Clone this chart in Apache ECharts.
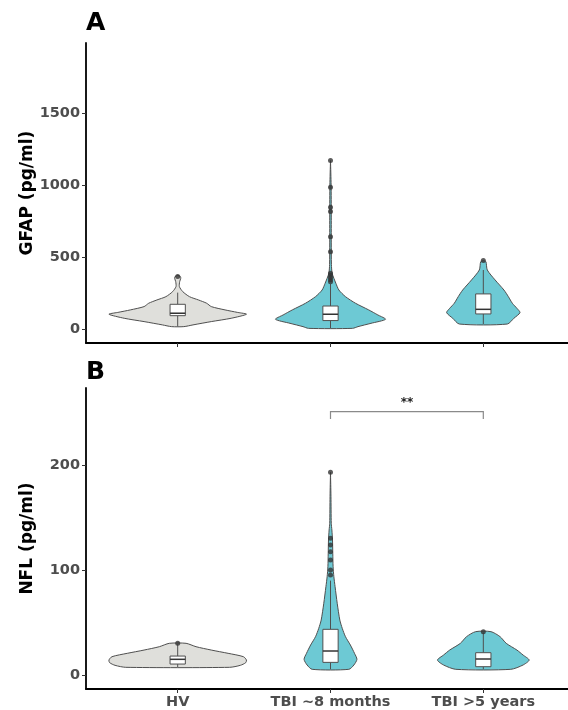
<!DOCTYPE html>
<html><head><meta charset="utf-8">
<script src="https://cdn.jsdelivr.net/npm/echarts@6/dist/echarts.min.js"></script>
<style>html,body{margin:0;padding:0;background:#fff}#c{width:568px;height:710px}</style>
</head><body><div id="c"></div>
<script>
// ---- data ----
const categories = ['HV', 'TBI ~8 months', 'TBI >5 years'];
const gfapTicks = [0, 500, 1000, 1500];
const nflTicks = [0, 100, 200];
const catTicks = [1, 2, 3];

// violin outlines: value levels (pg/ml) and half-widths (category units)
const gfapHV_y = [19, 31, 54, 77, 105, 118, 135, 158, 181, 204, 227, 262, 297, 331, 354, 366, 375];
const gfapHV_w = [0.04, 0.10, 0.22, 0.35, 0.45, 0.39, 0.31, 0.22, 0.19, 0.136, 0.077, 0.033, 0.011, 0.013, 0.02, 0.018, 0];
const gfapT8_y = [7, 19, 42, 70, 100, 135, 181, 227, 273, 320, 389, 450, 600, 800, 1000, 1171];
const gfapT8_w = [0.144, 0.18, 0.265, 0.36, 0.31, 0.25, 0.164, 0.098, 0.055, 0.035, 0.011, 0.006, 0.005, 0.005, 0.004, 0];
const gfapT5_y = [37, 77, 116, 146, 181, 227, 273, 343, 412, 470, 477];
const gfapT5_w = [0.157, 0.2, 0.24, 0.22, 0.19, 0.164, 0.135, 0.077, 0.026, 0.017, 0];

const nflHV_y = [7.6, 9.5, 12, 14.5, 17.7, 20.9, 24.0, 27.2, 30.4];
const nflHV_w = [0.34, 0.41, 0.445, 0.45, 0.43, 0.33, 0.22, 0.12, 0.055];
const nflT8_y = [5.7, 9.8, 15.2, 20.9, 28.8, 36.7, 44.6, 52.5, 68.4, 84.2, 93.7, 103.2, 115.9, 128.6, 138.1, 144.4, 170, 192.9];
const nflT8_w = [0.12, 0.153, 0.173, 0.157, 0.13, 0.098, 0.077, 0.061, 0.044, 0.03, 0.022, 0.017, 0.015, 0.013, 0.009, 0.005, 0.003, 0];
const nflT5_y = [5.7, 9.8, 14.5, 19.3, 24.0, 30.4, 36.7, 41.5];
const nflT5_w = [0.18, 0.26, 0.3, 0.26, 0.22, 0.15, 0.11, 0.05];

// box stats: [lower whisker, Q1, median, Q3, upper whisker]
const gfapBox = [[19, 95, 112, 174, 255], [7, 61, 105, 162, 315], [37, 107, 139, 246, 412]];
const nflBox = [[7.6, 10.7, 15.2, 18.3, 29.5], [5.7, 12.3, 23.1, 43.7, 90], [5.7, 8.2, 15.5, 21.5, 40.5]];
// outliers: [category (1-based), value]
const gfapOutliers = [[1, 366], [2, 1171], [2, 986], [2, 847], [2, 817], [2, 643], [2, 539], [2, 389], [2, 375], [2, 360], [2, 345], [2, 331], [3, 477]];
const nflOutliers = [[1, 30.4], [2, 192.9], [2, 130.2], [2, 123.8], [2, 117.5], [2, 109.6], [2, 100.1], [2, 95.3], [3, 41.5]];

// significance bracket (panel B)
const bracketFrom = 2, bracketTo = 3, bracketY = 250.5, bracketDrop = 243.5, bracketLabel = '**', bracketLabelY = 259;

// ---- styling ----
const FONT = '"DejaVu Sans", Arial, sans-serif';
const fills = ['#dfdfdb', '#6dc9d4', '#6dc9d4'];
const strokeC = '#4f4f4f';

function violinSeries(grid, ys, ws) {
  return {
    type: 'custom', xAxisIndex: grid, yAxisIndex: grid, z: 2,
    data: [[1], [2], [3]],
    renderItem: function (params, api) {
      const i = params.dataIndex, c = i + 1;
      const Y = ys[i], W = ws[i];
      const pts = [];
      for (let k = 0; k < Y.length; k++) pts.push(api.coord([c + W[k], Y[k]]));
      for (let k = Y.length - 1; k >= 0; k--) pts.push(api.coord([c - W[k], Y[k]]));
      return { type: 'polygon', shape: { points: pts, smooth: 0.25 },
        style: { fill: fills[i], stroke: strokeC, lineWidth: 1 } };
    }
  };
}
function boxSeries(grid, stats) {
  return {
    type: 'custom', xAxisIndex: grid, yAxisIndex: grid, z: 3,
    data: [[1], [2], [3]],
    renderItem: function (params, api) {
      const i = params.dataIndex, c = i + 1, s = stats[i], hw = 0.05;
      const lo = api.coord([c, s[0]]), hi = api.coord([c, s[4]]);
      const q1l = api.coord([c - hw, s[1]]), q3r = api.coord([c + hw, s[3]]);
      const ml = api.coord([c - hw, s[2]]), mr = api.coord([c + hw, s[2]]);
      const q1c = api.coord([c, s[1]]), q3c = api.coord([c, s[3]]);
      const ls = { stroke: strokeC, lineWidth: 1 };
      return { type: 'group', children: [
        { type: 'line', shape: { x1: lo[0], y1: lo[1], x2: q1c[0], y2: q1c[1] }, style: ls },
        { type: 'line', shape: { x1: q3c[0], y1: q3c[1], x2: hi[0], y2: hi[1] }, style: ls },
        { type: 'rect', shape: { x: q1l[0], y: q3r[1], width: q3r[0] - q1l[0], height: q1l[1] - q3r[1] },
          style: { fill: '#fff', stroke: strokeC, lineWidth: 1 } },
        { type: 'line', shape: { x1: ml[0], y1: ml[1], x2: mr[0], y2: mr[1] }, style: { stroke: '#333', lineWidth: 1.5 } }
      ] };
    }
  };
}
function outlierSeries(grid, pts) {
  return { type: 'scatter', xAxisIndex: grid, yAxisIndex: grid, z: 4, data: pts,
    symbolSize: 5, itemStyle: { color: '#333' }, silent: true };
}
const tickLabelStyle = { color: '#4d4d4d', fontWeight: 'bold', fontSize: 14.5, fontFamily: FONT };
function xAxis(grid, labels) {
  return { gridIndex: grid, type: 'value', min: 0.4, max: 3.6,
    axisLine: { show: true, onZero: false, lineStyle: { color: '#000', width: 1.8 } },
    axisTick: { show: true, customValues: catTicks, length: 4, lineStyle: { color: '#333' } },
    axisLabel: labels ? Object.assign({ customValues: catTicks, margin: 6,
      formatter: v => categories[Math.round(v) - 1] }, tickLabelStyle) : { show: false },
    splitLine: { show: false } };
}
function yAxis(grid, min, max, ticks, name) {
  return { gridIndex: grid, type: 'value', min: min, max: max,
    axisLine: { show: true, lineStyle: { color: '#000', width: 1.8 } },
    axisTick: { show: true, customValues: ticks, length: 4, lineStyle: { color: '#333' } },
    axisLabel: Object.assign({ customValues: ticks, margin: 6, formatter: v => String(v) }, tickLabelStyle),
    splitLine: { show: false },
    name: name, nameLocation: 'middle', nameGap: 50, nameMoveOverlap: false,
    nameTextStyle: { color: '#000', fontWeight: 'bold', fontSize: 17, fontFamily: FONT } };
}

const chart = echarts.init(document.getElementById('c'), null, { renderer: 'canvas' });
chart.setOption({
  animation: false,
  backgroundColor: '#fff',
  grid: [
    { left: 86, top: 43, width: 489, height: 300, outerBoundsMode: 'none' },
    { left: 86, top: 388, width: 489, height: 301, outerBoundsMode: 'none' }
  ],
  xAxis: [xAxis(0, false), xAxis(1, true)],
  yAxis: [yAxis(0, -94.6, 1987, gfapTicks, 'GFAP (pg/ml)'), yAxis(1, -13, 273, nflTicks, 'NFL (pg/ml)')],
  graphic: [
    { type: 'text', left: 86, top: 11, style: { text: 'A', font: 'bold 25px ' + FONT, fill: '#000' } },
    { type: 'text', left: 86, top: 360, style: { text: 'B', font: 'bold 25px ' + FONT, fill: '#000' } }
  ],
  series: [
    violinSeries(0, [gfapHV_y, gfapT8_y, gfapT5_y], [gfapHV_w, gfapT8_w, gfapT5_w]),
    boxSeries(0, gfapBox),
    outlierSeries(0, gfapOutliers),
    violinSeries(1, [nflHV_y, nflT8_y, nflT5_y], [nflHV_w, nflT8_w, nflT5_w]),
    boxSeries(1, nflBox),
    outlierSeries(1, nflOutliers),
    { type: 'custom', xAxisIndex: 1, yAxisIndex: 1, z: 5, data: [[bracketFrom, bracketTo]],
      renderItem: function (params, api) {
        const a = api.coord([bracketFrom, bracketDrop]), b = api.coord([bracketFrom, bracketY]);
        const c = api.coord([bracketTo, bracketY]), d = api.coord([bracketTo, bracketDrop]);
        const t = api.coord([(bracketFrom + bracketTo) / 2, bracketLabelY]);
        return { type: 'group', children: [
          { type: 'polyline', shape: { points: [a, b, c, d] }, style: { stroke: '#8a8a8a', lineWidth: 1.2, fill: null } },
          { type: 'text', x: t[0], y: t[1], style: { text: bracketLabel, align: 'center', verticalAlign: 'middle',
            font: 'bold 12px ' + FONT, fill: '#222' } }
        ] };
      } }
  ]
});
</script></body></html>
